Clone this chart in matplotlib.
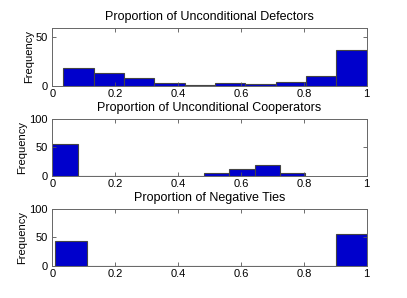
import matplotlib
matplotlib.use("Agg")
import matplotlib.pyplot as plt

plt.rcParams["font.family"] = ["Liberation Sans", "DejaVu Sans"]

# histogram bin edges and counts
defector_edges = [0.035, 0.1315, 0.228, 0.3245, 0.421, 0.5175, 0.614, 0.7105, 0.807, 0.9035, 1.0]
defector_counts = [19, 13, 8, 3, 1, 3, 2, 4, 10, 37]

cooperator_edges = [0.0, 0.0805, 0.161, 0.2415, 0.322, 0.4025, 0.483, 0.5635, 0.644, 0.7245, 0.805]
cooperator_counts = [56, 0, 0, 0, 0, 0, 6, 13, 20, 5]

negative_edges = [0.01, 0.109, 0.208, 0.307, 0.406, 0.505, 0.604, 0.703, 0.802, 0.901, 1.0]
negative_counts = [44, 0, 0, 0, 0, 0, 0, 0, 0, 56]

titles = ["Proportion of Unconditional Defectors",
          "Proportion of Unconditional Cooperators",
          "Proportion of Negative Ties"]
xticks = [0, 0.2, 0.4, 0.6, 0.8, 1]
xticklabels = ["0", "0.2", "0.4", "0.6", "0.8", "1"]

fig = plt.figure(figsize=(4.07, 2.98), dpi=100)

panels = [
    (defector_edges, defector_counts, [0.1285, 0.7114, 0.7725, 0.1956], 60, [0, 50]),
    (cooperator_edges, cooperator_counts, [0.1285, 0.4094, 0.7725, 0.1913], 100, [0, 50, 100]),
    (negative_edges, negative_counts, [0.1285, 0.1074, 0.7725, 0.1913], 100, [0, 50, 100]),
]

for (edges, counts, pos, ytop, yticks), title in zip(panels, titles):
    ax = fig.add_axes(pos)
    widths = [edges[i + 1] - edges[i] for i in range(len(counts))]
    ax.bar(edges[:-1], counts, width=widths, align="edge",
           color="#0000cc", edgecolor="#444444", linewidth=0.8)
    ax.set_xlim(0, 1)
    ax.set_ylim(0, ytop)
    ax.set_xticks(xticks)
    ax.set_xticklabels(xticklabels)
    ax.set_yticks(yticks)
    ax.set_ylabel("Frequency", fontsize=8, labelpad=1)
    ax.set_title(title, fontsize=9, pad=5.5)
    ax.tick_params(direction="in", top=True, right=True, labelsize=8,
                   length=3, width=0.6, color="#555555")
    ax.tick_params(axis="x", pad=2)
    ax.tick_params(axis="y", pad=3.5)
    for s in ax.spines.values():
        s.set_color("#666666")
        s.set_linewidth(0.7)

fig.savefig("out.png", dpi=100)
